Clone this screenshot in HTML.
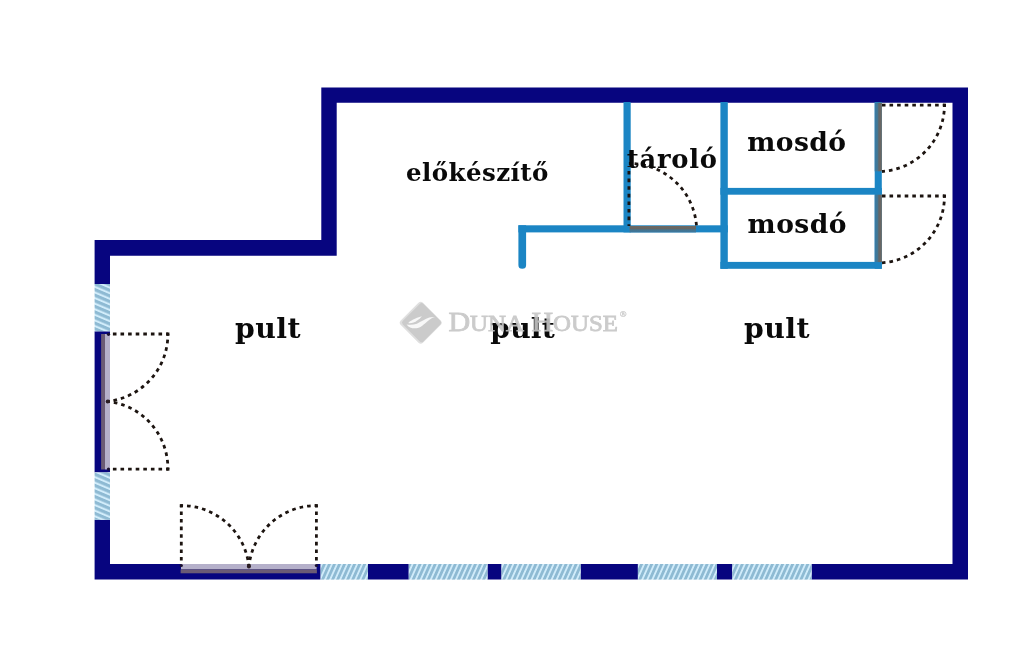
<!DOCTYPE html>
<html lang="hu">
<head>
<meta charset="utf-8">
<title>Alaprajz</title>
<style>
  html, body { margin: 0; padding: 0; background: #ffffff; }
  body { width: 1024px; height: 646px; overflow: hidden; }
  svg { display: block; }
  .lbl { font-family: "DejaVu Serif", "Liberation Serif", serif; font-weight: bold; font-size: 26.6px; fill: #0a0a0a; }
  .wm  { font-family: "Liberation Serif", "DejaVu Serif", serif; fill: #c6c6c6; }
  .dot { fill: none; stroke: #1c1410; stroke-width: 2.8; stroke-dasharray: 3.6 4; stroke-dashoffset: 1.8; }
</style>
</head>
<body>
<svg width="1024" height="646" viewBox="0 0 1024 646">
  <defs>
    <pattern id="hatchH" width="4.6" height="10" patternUnits="userSpaceOnUse" patternTransform="rotate(24)">
      <rect x="0" y="0" width="4.6" height="10" fill="#d2edfb"/>
      <rect x="0" y="0" width="2.8" height="10" fill="#8ebad3"/>
    </pattern>
    <pattern id="hatchV" width="5.15" height="10" patternUnits="userSpaceOnUse" patternTransform="translate(0 1.5) rotate(113)">
      <rect x="0" y="0" width="5.15" height="10" fill="#d2edfb"/>
      <rect x="0" y="0" width="3.1" height="10" fill="#8ebad3"/>
    </pattern>
    <linearGradient id="leafV" x1="0" y1="0" x2="1" y2="0">
      <stop offset="0" stop-color="#357ba8"/>
      <stop offset="0.42" stop-color="#457690"/>
      <stop offset="0.58" stop-color="#646668"/>
      <stop offset="1" stop-color="#6d6862"/>
    </linearGradient>
    <linearGradient id="leafH" x1="0" y1="0" x2="0" y2="1">
      <stop offset="0" stop-color="#6d6862"/>
      <stop offset="0.42" stop-color="#666664"/>
      <stop offset="0.6" stop-color="#44738e"/>
      <stop offset="1" stop-color="#3a78a0"/>
    </linearGradient>
    <filter id="noop" x="0" y="0" width="1024" height="646" filterUnits="userSpaceOnUse" color-interpolation-filters="sRGB">
      <feOffset dx="0" dy="0"/>
    </filter>
  </defs>

  <rect x="0" y="0" width="1024" height="646" fill="#ffffff"/>

  <!-- outer walls -->
  <path fill="#07057f" fill-rule="evenodd"
        d="M321.3 87.5 H968 V579.6 H94.6 V240.1 H321.3 Z
           M336.7 102.7 H952.5 V564 H110 V255.7 H336.7 Z"/>

  <!-- windows: left wall -->
  <rect x="93" y="284" width="18" height="47.3" fill="#ffffff"/>
  <rect x="94.6" y="284" width="15.4" height="47.3" fill="url(#hatchV)"/>
  <rect x="93" y="472.4" width="18" height="47.4" fill="#ffffff"/>
  <rect x="94.6" y="472.4" width="15.4" height="47.4" fill="url(#hatchV)"/>
  <!-- windows: bottom wall -->
  <rect x="320.6" y="563" width="47.3" height="18" fill="#ffffff"/>
  <rect x="320.6" y="564" width="47.3" height="15.6" fill="url(#hatchH)"/>
  <rect x="408.75" y="563" width="78.75" height="18" fill="#ffffff"/>
  <rect x="408.75" y="564" width="78.75" height="15.6" fill="url(#hatchH)"/>
  <rect x="501.5" y="563" width="79.1" height="18" fill="#ffffff"/>
  <rect x="501.5" y="564" width="79.1" height="15.6" fill="url(#hatchH)"/>
  <rect x="637.9" y="563" width="79.1" height="18" fill="#ffffff"/>
  <rect x="637.9" y="564" width="79.1" height="15.6" fill="url(#hatchH)"/>
  <rect x="732.25" y="563" width="79.35" height="18" fill="#ffffff"/>
  <rect x="732.25" y="564" width="79.35" height="15.6" fill="url(#hatchH)"/>

  <!-- left double door -->
  <rect x="101.1" y="334" width="4" height="135.5" fill="#6b5b75"/>
  <rect x="105" y="334" width="5" height="135.5" fill="#b5b0ca"/>
  <path class="dot" d="M167.9 334 H110"/>
  <path class="dot" d="M167.9 334 A67.5 67.5 0 0 1 107.7 401.4"/>
  <path class="dot" d="M167.9 469.2 H110"/>
  <path class="dot" d="M167.9 469.2 A67.5 67.5 0 0 0 107.7 401.4"/>
  <circle cx="107.7" cy="401.4" r="2" fill="#2a1c24"/>
  <circle cx="108.5" cy="334.3" r="1.6" fill="#1a1030"/>
  <circle cx="108.5" cy="469" r="1.6" fill="#1a1030"/>

  <!-- bottom double door -->
  <rect x="181" y="564" width="135.6" height="5.4" fill="#b5b0ca"/>
  <rect x="180.6" y="569.4" width="136.3" height="3.9" fill="#6b5b75"/>
  <path class="dot" d="M181.3 505.6 V564"/>
  <path class="dot" d="M181.3 505.6 A67.6 67.6 0 0 1 248.9 566.6"/>
  <path class="dot" d="M316.4 505.6 V564"/>
  <path class="dot" d="M316.4 505.6 A67.6 67.6 0 0 0 248.9 566.6"/>
  <circle cx="248.9" cy="566.6" r="2" fill="#2a1c24"/>
  <circle cx="181.3" cy="565.5" r="1.6" fill="#1a1030"/>
  <circle cx="316.4" cy="565.5" r="1.6" fill="#1a1030"/>

  <!-- inner (light blue) walls -->
  <g fill="#1b85c4">
    <!-- preparation room partition with rounded stub -->
    <rect x="518.4" y="225.3" width="209.4" height="7.1"/>
    <path d="M518.4 225.3 H526.1 V265 A3.85 3.85 0 0 1 518.4 265 Z"/>
    <!-- storage left wall -->
    <rect x="623.5" y="102" width="7.2" height="130.4"/>
    <!-- storage right / washroom left wall -->
    <rect x="720.4" y="102" width="7.4" height="166.8"/>
    <!-- washroom separators -->
    <rect x="720.4" y="187.9" width="161.4" height="6.8"/>
    <rect x="720.4" y="261.9" width="161.4" height="6.9"/>
    <!-- washroom right wall -->
    <rect x="874.7" y="102" width="7.1" height="166.8"/>
  </g>

  <!-- storage door -->
  <rect x="629.6" y="226" width="66.4" height="6.4" fill="url(#leafH)"/>
  <path class="dot" d="M628.9 226 V166"/>
  <path class="dot" d="M628.9 163.5 A67.3 67.3 0 0 1 696.5 226"/>

  <!-- washroom doors -->
  <rect x="874.7" y="102.7" width="7.1" height="68.6" fill="url(#leafV)"/>
  <path class="dot" d="M944.5 105.2 H882"/>
  <path class="dot" d="M944.5 105.2 A67 67 0 0 1 882 171.5"/>
  <rect x="874.7" y="194.7" width="7.1" height="67.4" fill="url(#leafV)"/>
  <path class="dot" d="M944.5 196 H882"/>
  <path class="dot" d="M944.5 196 A67 67 0 0 1 882 262.8"/>

  <!-- corner dots of door swings -->
  <g fill="#1c1410">
    <rect x="166.4" y="332.5" width="3" height="3"/>
    <rect x="166.4" y="467.7" width="3" height="3"/>
    <rect x="179.8" y="504.1" width="3" height="3"/>
    <rect x="314.9" y="504.1" width="3" height="3"/>
    <rect x="943.0" y="103.7" width="3" height="3"/>
    <rect x="943.0" y="194.5" width="3" height="3"/>
  </g>

  <!-- labels -->
  <g filter="url(#noop)">
  <text class="lbl" x="406.1" y="180.5" style="font-size:24.5px;letter-spacing:0.41px">előkészítő</text>
  <text class="lbl" x="626.8" y="167.5" style="font-size:25.8px;letter-spacing:0.75px">tároló</text>
  <text class="lbl" x="747.3" y="151" style="font-size:26.6px;letter-spacing:0.4px">mosdó</text>
  <text class="lbl" x="747.6" y="232.5" style="font-size:26.6px;letter-spacing:0.4px">mosdó</text>
  <text class="lbl" x="235.1" y="337.5" style="font-size:28.3px;letter-spacing:0.4px">pult</text>
  <text class="lbl" x="490.3" y="338" style="font-size:28.2px;letter-spacing:0.15px">pult</text>
  <text class="lbl" x="744.1" y="337.5" style="font-size:28.3px;letter-spacing:0.4px">pult</text>
  </g>

  <!-- watermark -->
  <g opacity="0.9">
    <g transform="translate(420.7 322.7) rotate(45)">
      <rect x="-15.7" y="-15.7" width="31.4" height="31.4" rx="3.2" ry="3.2" fill="#dcdcdc"/>
      <rect x="-13.9" y="-15.2" width="29.1" height="29.1" rx="2.6" ry="2.6" fill="#c6c6c6"/>
    </g>
    <path d="M406.6 324.4 C408.8 327.6 413.4 329 417.8 328 C422.2 327 425.2 322.8 429.4 319.8 C431.6 318.2 433.6 317.4 435 317.1 C433 316.8 431 317 429.3 317.5 C425 318.9 421 321.8 416.9 323.7 C413.5 325 409.5 325 406.6 324.4 Z" fill="#f8f8f8"/>
    <path d="M408.2 323 C410.4 320.4 415 318.3 421.9 316.2 C419.2 319.4 416.6 321.2 413.6 322.5 C411.6 323.3 409.4 323.5 408.2 323 Z" fill="#f8f8f8"/>
    <text class="wm" x="448.4" y="330.6" font-size="27.4" textLength="169.6" lengthAdjust="spacingAndGlyphs" stroke="#c6c6c6" stroke-width="0.8">D<tspan font-size="22.7">UNA</tspan> H<tspan font-size="22.7">OUSE</tspan></text>
    <text class="wm" x="619.7" y="316.7" font-size="9" stroke="#c6c6c6" stroke-width="0.3">®</text>
  </g>
</svg>
</body>
</html>
